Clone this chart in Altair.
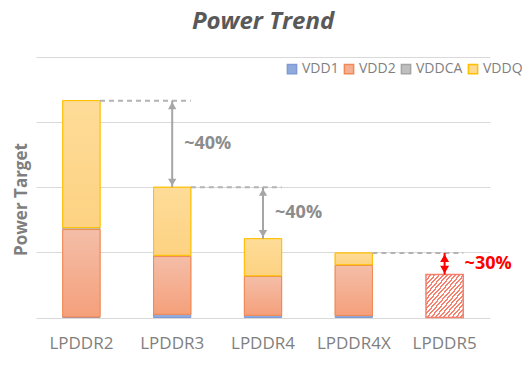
import altair as alt
import pandas as pd

cats = ["LPDDR2", "LPDDR3", "LPDDR4", "LPDDR4X", "LPDDR5"]
series = ["VDD1", "VDD2", "VDDCA", "VDDQ"]
vdd1 = [0.01, 0.05, 0.035, 0.03]
vdd2 = [1.34, 0.885, 0.595, 0.77]
vddca = [0.03, 0.02, 0.01, 0.01]
vddq = [1.95, 1.045, 0.57, 0.18]
lpddr5_target = [0.66]
gaps = ["~40%", "~40%", "~30%"]

fills = ["#8faadc", "#f5b093", "#bfbfbf", "#fed98e"]
strokes = ["#7f9ad4", "#f08a54", "#a5a5a5", "#ffc000"]

FONT = "Open Sans"
GRAY = "#8c8c8c"

rows = []
for i, c in enumerate(cats[:4]):
    for j, (s, vals) in enumerate(zip(series, [vdd1, vdd2, vddca, vddq])):
        rows.append({"cat": c, "series": s, "ord": j, "value": vals[i]})
df = pd.DataFrame(rows)

tops = [vdd1[i] + vdd2[i] + vddca[i] + vddq[i] for i in range(4)] + lpddr5_target
ann = pd.DataFrame({
    "cat": [cats[0], cats[1], cats[3]],
    "cat2": [cats[1], cats[2], cats[4]],
    "top": [tops[0], tops[1], tops[3]],
    "top2": [tops[1], tops[2], tops[4]],
    "label": gaps,
})
ann["mid"] = (ann["top"] + ann["top2"]) / 2
ann["kind"] = ["gray", "gray", "red"]

xscale = alt.Scale(domain=cats, paddingInner=0.59, paddingOuter=0.295)
yscale = alt.Scale(domain=[0, 4])

X = alt.X("cat:N", scale=xscale, sort=cats, title=None,
          axis=alt.Axis(labelFont=FONT, labelFontSize=17, labelColor="#7f7f7f",
                        labelPadding=18, ticks=False, domain=False, labelAngle=0))
Y = alt.Y("y0:Q", scale=yscale, title="Power Target",
          axis=alt.Axis(values=[0, 1, 2, 3, 4], labels=False, ticks=False, domain=False,
                        grid=True, gridColor="#d9d9d9", titleFont=FONT, titleFontSize=17,
                        titleFontWeight="bold", titleColor="#7f7f7f", titlePadding=6,
                        titleY=142))

base = alt.Chart(df).transform_stack(
    stack="value", groupby=["cat"], as_=["y0", "y1"], sort=[alt.SortField("ord")]
)

leg = alt.Legend(orient="none", direction="horizontal", legendX=249, legendY=5,
                 symbolType="square", symbolSize=85, labelFont=FONT,
                 labelFontSize=14, labelColor="#7f7f7f", columnPadding=2,
                 labelOffset=3, padding=0)

bars = base.mark_bar(strokeWidth=1).encode(
    x=X,
    y=Y,
    y2="y1:Q",
    fill=alt.Fill("series:N", scale=alt.Scale(domain=series, range=fills), title=None, legend=leg),
    stroke=alt.Stroke("series:N", scale=alt.Scale(domain=series, range=strokes), title=None, legend=leg),
)

def vgrad(top, bottom):
    return {"gradient": "linear", "x1": 0, "y1": 0, "x2": 0, "y2": 1,
            "stops": [{"offset": 0, "color": top}, {"offset": 1, "color": bottom}]}

vdd2_grad = base.transform_filter(alt.datum.series == "VDD2").mark_bar(
    fill=vgrad("#f4bea8", "#f5a07b"), stroke="#f08a54", strokeWidth=1
).encode(x=alt.X("cat:N", scale=xscale, sort=cats), y=alt.Y("y0:Q", scale=yscale), y2="y1:Q")

vddq_grad = base.transform_filter(alt.datum.series == "VDDQ").mark_bar(
    fill=vgrad("#fedc98", "#fdd282"), stroke="#ffc000", strokeWidth=1
).encode(x=alt.X("cat:N", scale=xscale, sort=cats), y=alt.Y("y0:Q", scale=yscale), y2="y1:Q")

N = 18
stops = []
for k in range(N):
    stops += [{"offset": k / N, "color": "#f4806e"},
              {"offset": (k + 0.45) / N, "color": "#f4806e"},
              {"offset": (k + 0.45) / N, "color": "#ffffff"},
              {"offset": (k + 1) / N, "color": "#ffffff"}]
hatch = {"gradient": "linear", "x1": 0, "y1": 0, "x2": 1, "y2": 1, "stops": stops}

df5 = pd.DataFrame({"cat": [cats[4]], "y0": [0.0], "y1": lpddr5_target})
bar5 = alt.Chart(df5).mark_bar(fill=hatch, stroke="#f4806e", strokeWidth=1.5).encode(
    x=alt.X("cat:N", scale=xscale, sort=cats), y=alt.Y("y0:Q", scale=yscale), y2="y1:Q")

annc = alt.Chart(ann)
dashes = annc.mark_rule(strokeDash=[5, 4], strokeWidth=2, color="#b3b3b3").encode(
    x=alt.X("cat:N", scale=xscale, sort=cats, bandPosition=1),
    x2=alt.X2("cat2:N", bandPosition=1),
    y=alt.Y("top:Q", scale=yscale),
)

def arrows(kind, color, w, size):
    d = annc.transform_filter(alt.datum.kind == kind)
    line = d.mark_rule(color=color, strokeWidth=w).encode(
        x=alt.X("cat2:N", scale=xscale, sort=cats),
        y=alt.Y("top:Q", scale=yscale), y2="top2:Q")
    up = d.mark_point(shape="triangle-up", filled=True, color=color, size=size, opacity=1,
                      yOffset=5).encode(
        x=alt.X("cat2:N", scale=xscale, sort=cats), y=alt.Y("top:Q", scale=yscale))
    down = d.mark_point(shape="triangle-down", filled=True, color=color, size=size, opacity=1,
                        yOffset=-5).encode(
        x=alt.X("cat2:N", scale=xscale, sort=cats), y=alt.Y("top2:Q", scale=yscale))
    return line + up + down

gray_arrows = arrows("gray", "#a6a6a6", 2, 70)
red_arrows = arrows("red", "#ff0000", 2, 80)

gray_text = annc.transform_filter(alt.datum.kind == "gray").mark_text(
    align="left", baseline="middle", dx=12, font=FONT, fontSize=18, fontWeight="bold", color=GRAY
).encode(x=alt.X("cat2:N", scale=xscale, sort=cats), y=alt.Y("mid:Q", scale=yscale), text="label:N")

red_text = annc.transform_filter(alt.datum.kind == "red").mark_text(
    align="left", baseline="middle", dx=20, font=FONT, fontSize=18, fontWeight="bold", color="#ff0000"
).encode(x=alt.X("cat2:N", scale=xscale, sort=cats), y=alt.Y("mid:Q", scale=yscale), text="label:N")

chart = alt.layer(
    bars, vdd2_grad, vddq_grad, bar5, dashes, gray_arrows, red_arrows, gray_text, red_text
).properties(
    width=454, height=260.5,
    title=alt.Title("Power Trend", font=FONT, fontSize=24, fontWeight="bold", fontStyle="italic",
                    color="#595959", anchor="middle", offset=23),
    autosize=alt.AutoSizeParams(type="none"),
    padding={"left": 28, "top": 49, "right": 32, "bottom": 38},
).configure_view(stroke=None)

chart.save("out.html", embed_options={"renderer": "svg", "actions": False})
